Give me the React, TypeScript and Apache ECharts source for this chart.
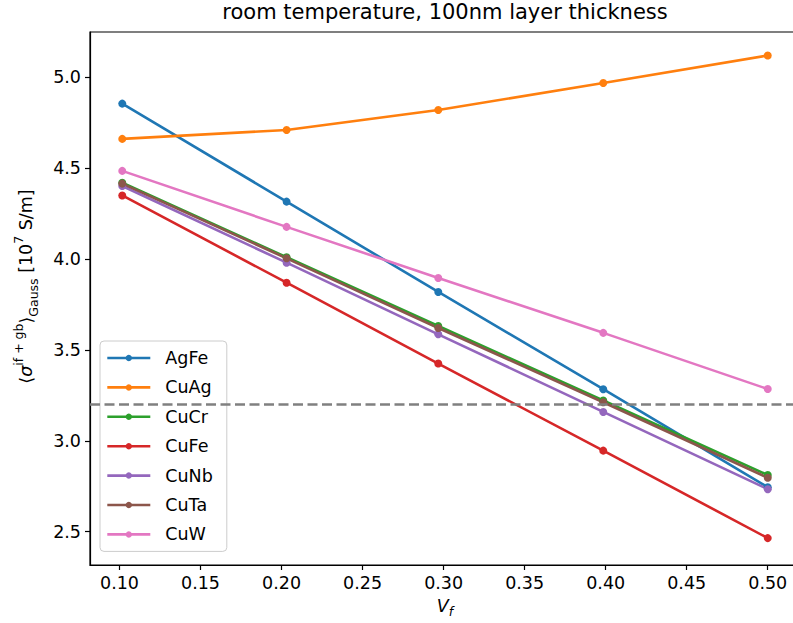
import React, { useEffect, useRef } from "react";
import * as echarts from "echarts";

const vf = [0.1017, 0.2031, 0.2967, 0.3985, 0.5];
const seriesNames = ["AgFe", "CuAg", "CuCr", "CuFe", "CuNb", "CuTa", "CuW"];
const agFe = [4.855, 4.316, 3.819, 3.284, 2.745];
const cuAg = [4.661, 4.71, 4.82, 4.968, 5.12];
const cuCr = [4.42, 4.01, 3.632, 3.222, 2.812];
const cuFe = [4.35, 3.87, 3.425, 2.946, 2.465];
const cuNb = [4.402, 3.98, 3.586, 3.159, 2.734];
const cuTa = [4.415, 4.004, 3.621, 3.212, 2.797];
const cuW = [4.485, 4.177, 3.896, 3.594, 3.285];
const xTicks = [0.1, 0.15, 0.2, 0.25, 0.3, 0.35, 0.4, 0.45, 0.5];
const yTicks = [2.5, 3.0, 3.5, 4.0, 4.5, 5.0];
const threshold = 3.2;
const colors = ["#1f77b4", "#ff7f0e", "#2ca02c", "#d62728", "#9467bd", "#8c564b", "#e377c2"];

const FONT = "DejaVu Sans";

export default function App() {
  const ref = useRef<HTMLDivElement>(null);
  useEffect(() => {
    const chart = echarts.init(ref.current!, null, { renderer: "svg" });
    const allValues = [agFe, cuAg, cuCr, cuFe, cuNb, cuTa, cuW];
    const series: any[] = allValues.map((vals, i) => ({
      name: seriesNames[i],
      type: "line",
      data: vf.map((x, j) => [x, vals[j]]),
      symbol: "circle",
      symbolSize: 8,
      lineStyle: { width: 2.6, color: colors[i] },
      itemStyle: { color: colors[i] },
      emphasis: { disabled: true },
    }));
    series[series.length - 1].markLine = {
      silent: true,
      symbol: ["none", "none"],
      label: { show: false },
      lineStyle: { color: "#808080", type: [10, 4.5], width: 2.6 },
      data: [{ yAxis: threshold }],
    };
    chart.setOption({
      animation: false,
      textStyle: { fontFamily: FONT },
      title: {
        text: "room temperature, 100nm layer thickness",
        left: 445,
        top: 1,
        padding: 0,
        textAlign: "center",
        textStyle: { fontFamily: FONT, fontSize: 21, fontWeight: "normal", color: "#000" },
      },
      grid: {
        left: 90,
        right: -7,
        top: 32,
        bottom: 58,
        containLabel: false,
        outerBoundsMode: "none",
        show: true,
        borderColor: "#000",
        borderWidth: 1.2,
      },
      legend: {
        orient: "vertical",
        left: 100,
        top: 341,
        data: seriesNames,
        itemWidth: 43,
        itemHeight: 8,
        itemGap: 9.4,
        padding: [7, 14, 7, 6],
        lineStyle: { width: 2.6 },
        backgroundColor: "rgba(255,255,255,0.8)",
        borderColor: "#cccccc",
        borderWidth: 1,
        borderRadius: 4,
        textStyle: { fontFamily: FONT, fontSize: 17.5, color: "#000", lineHeight: 20, padding: [0, 0, 0, 10] },
      },
      xAxis: {
        type: "value",
        min: 0.0818,
        max: 0.5199,
        splitLine: { show: false },
        axisLine: { show: true, onZero: false, lineStyle: { color: "#000", width: 1.2 } },
        axisTick: { show: true, length: 5, lineStyle: { color: "#000", width: 1.2 }, customValues: xTicks },
        axisLabel: {
          customValues: xTicks,
          formatter: (v: number) => v.toFixed(2),
          fontFamily: FONT,
          fontSize: 17.5,
          color: "#000",
          margin: 9,
        },
        name: "{i|V}{sub|f}",
        nameLocation: "middle",
        nameGap: 28,
        nameTextStyle: {
          rich: {
            i: { fontFamily: FONT, fontSize: 17.5, fontStyle: "italic", color: "#000", lineHeight: 24, verticalAlign: "middle" },
            sub: { fontFamily: FONT, fontSize: 12.5, fontStyle: "italic", color: "#000", verticalAlign: "bottom", lineHeight: 12 },
          },
        },
      },
      yAxis: {
        type: "value",
        min: 2.317,
        max: 5.249,
        splitLine: { show: false },
        axisLine: { show: true, onZero: false, lineStyle: { color: "#000", width: 1.2 } },
        axisTick: { show: true, length: 5, lineStyle: { color: "#000", width: 1.2 }, customValues: yTicks },
        axisLabel: {
          customValues: yTicks,
          formatter: (v: number) => v.toFixed(1),
          fontFamily: FONT,
          fontSize: 17.5,
          color: "#000",
          margin: 9,
        },
        name: "{a|⟨}{i|σ}{sup|if + gb}{a|⟩}{sub|Gauss}{a| [10}{sup|7}{a| S/m]}",
        nameLocation: "middle",
        nameRotate: 90,
        nameGap: 50,
        nameTextStyle: {
          padding: [0, 0, 0, 24],
          rich: {
            a: { fontFamily: FONT, fontSize: 17.5, color: "#000", lineHeight: 28, verticalAlign: "middle" },
            i: { fontFamily: FONT, fontSize: 17.5, fontStyle: "italic", color: "#000", lineHeight: 28, verticalAlign: "middle" },
            sup: { fontFamily: FONT, fontSize: 12.5, color: "#000", lineHeight: 14, verticalAlign: "top" },
            sub: { fontFamily: FONT, fontSize: 12.5, color: "#000", lineHeight: 14, verticalAlign: "bottom" },
          },
        },
      },
      series,
    });
    return () => chart.dispose();
  }, []);
  return (
    <div
      ref={ref}
      style={{ position: "fixed", left: 0, top: 0, width: 793, height: 623, background: "#fff" }}
    />
  );
}
